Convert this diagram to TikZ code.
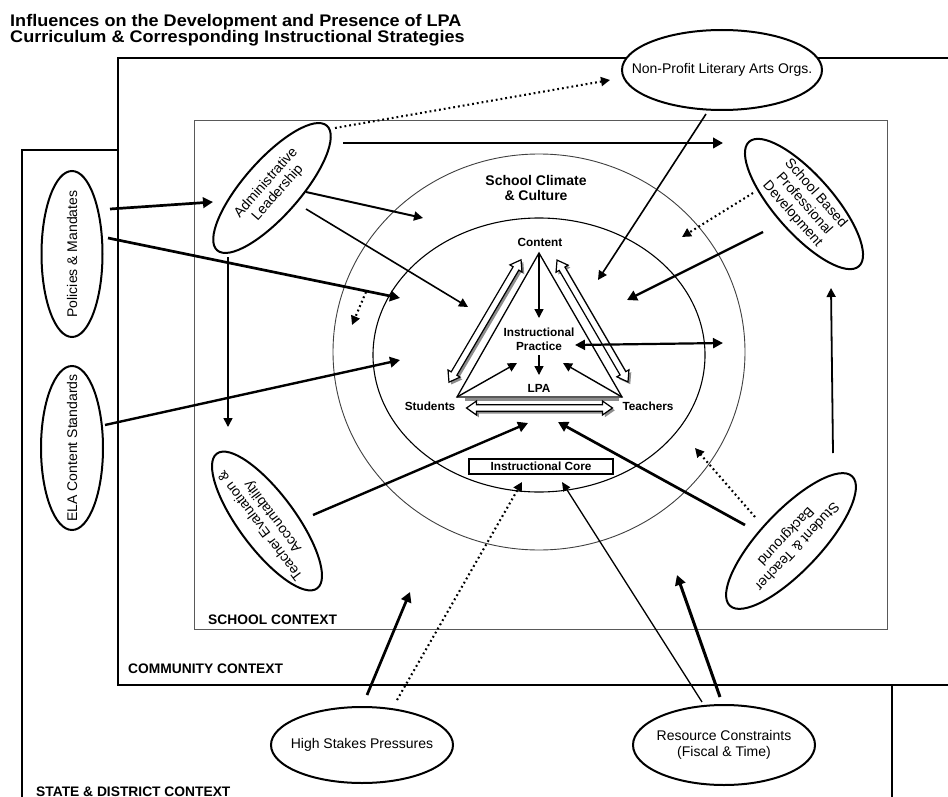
\documentclass[tikz,border=0pt]{standalone}
\usepackage{fontspec}
\setmainfont{Liberation Sans}
\usetikzlibrary{arrows.meta,shapes.geometric,calc}

\newcommand{\fs}[2]{\fontsize{#1}{#2}\selectfont}
% hollow double-headed arrow: #1 options, #2 length
\newcommand{\harrowpath}[2]{%
  \path[#1] ({-#2/2},0) -- ({-#2/2+10},7) -- ({-#2/2+10},3.3) -- ({#2/2-10},3.3)
   -- ({#2/2-10},7) -- ({#2/2},0) -- ({#2/2-10},-7) -- ({#2/2-10},-3.3)
   -- ({-#2/2+10},-3.3) -- ({-#2/2+10},-7) -- cycle;}
% #1 centre, #2 angle, #3 length
\newcommand{\hollowarrow}[3]{%
  \begin{scope}[shift={#1}]
    \begin{scope}[shift={(2.3,2.3)}, rotate=#2]
      \harrowpath{fill=black!45}{#3}
    \end{scope}
    \begin{scope}[rotate=#2]
      \harrowpath{draw, fill=white, line width=1.2pt, line join=miter}{#3}
    \end{scope}
  \end{scope}}

\tikzset{
  oval/.style={ellipse, draw, line width=2pt, fill=white, inner sep=0pt},
  ovaltext/.style={font=\fs{14}{15.5}, align=center, inner sep=0pt},
  ctrtxt/.style={font=\bfseries\fs{11.8}{14}, align=center, inner sep=0pt},
  ctxlabel/.style={font=\bfseries\fs{13.8}{15}, anchor=base west, inner sep=0pt},
  titletxt/.style={font=\bfseries\fs{16.8}{17}, anchor=base west, inner sep=0pt, xscale=1.075},
  connmid/.style={line width=1.6pt, -{Triangle[length=9pt,width=9pt]}},
  connlight/.style={line width=1.3pt, -{Triangle[length=9pt,width=8pt]}},
  connheavy/.style={line width=2.7pt, -{Triangle[length=10pt,width=10.5pt]}},
  conndot/.style={line width=2.1pt, dash pattern=on 1.8pt off 3pt, -{Triangle[length=9pt,width=9pt]}},
}

\begin{document}
\begin{tikzpicture}[x=1pt,y=-1pt]
\clip (0,0) rectangle (948,797);
\fill[white] (0,0) rectangle (948,797);

% title
\node[titletxt] (title1) at (10,27) {Influences on the Development and Presence of LPA};
\node[titletxt] (title2) at (10,43) {Curriculum \& Corresponding Instructional Strategies};

% context boxes
\draw[line width=1.8pt] (22,815) -- (22,150) -- (892,150) -- (892,815);
\draw[line width=2pt, fill=white] (118,58) rectangle (975,685);
\draw[line width=1pt, black!65] (194,121) rectangle (887,629);

% climate and core ellipses
\draw[line width=0.9pt, black!75] (539,352) ellipse [x radius=206pt, y radius=198pt];
\draw[line width=1.1pt] (539,355) ellipse [x radius=166pt, y radius=137pt];

% labels
\node[ctxlabel] (lschool) at (208,624) {SCHOOL CONTEXT};
\node[ctxlabel] (lcomm) at (128,673) {COMMUNITY CONTEXT};
\node[ctxlabel] (lstate) at (36,796) {STATE \& DISTRICT CONTEXT};

% outer influence ellipses
\node[oval, minimum width=200pt, minimum height=80pt] (np) at (722,70) {};
\node[ovaltext] at (np) {Non-Profit Literary Arts Orgs.};

\node[oval, minimum width=166pt, minimum height=56pt, rotate=48.6] (admin) at (272,188) {};
\node[ovaltext, rotate=48.6] at (admin) {Administrative\\Leadership};

\node[oval, minimum width=166pt, minimum height=58pt, rotate=-48.6] (sbpd) at (804,204) {};
\node[ovaltext, rotate=-48.6] at (sbpd) {School Based\\Professional\\Development};

\node[oval, minimum width=168pt, minimum height=56pt, rotate=126.7] (teval) at (267,521) {};
\node[ovaltext, rotate=126.7] at (teval) {Teacher Evaluation \&\\Accountability};

\node[oval, minimum width=178pt, minimum height=60pt, rotate=226.6] (stb) at (791,541) {};
\node[ovaltext, rotate=226.6] at (stb) {Student \& Teacher\\Background};

\node[oval, minimum width=61pt, minimum height=166pt] (pol) at (72,254) {};
\node[ovaltext, rotate=90] at (pol) {Policies \& Mandates};

\node[oval, minimum width=62pt, minimum height=164pt] (ela) at (72,448) {};
\node[ovaltext, rotate=90] at (ela) {ELA Content Standards};

\node[oval, minimum width=182pt, minimum height=76pt] (hsp) at (362,745) {};
\node[ovaltext] at (hsp) {High Stakes Pressures};

\node[oval, minimum width=182pt, minimum height=80pt] (rc) at (724,745) {};
\node[ovaltext, font=\fs{14}{16.5}] at (rc) {Resource Constraints\\(Fiscal \& Time)};

% instructional core triangle
\coordinate (tC) at (539,253);
\coordinate (tS) at (457,397);
\coordinate (tT) at (622,397);
\draw[line width=2.6pt, black!45] ($(tS)+(8,2.6)$) -- ($(tT)+(-3,2.6)$);
\draw[line width=1.3pt, line join=miter] (tS) -- (tC) -- (tT) -- cycle;

\hollowarrow{(485,321)}{59.5}{142}
\hollowarrow{(592.5,321)}{-59.8}{141}
\hollowarrow{(539.5,408)}{0}{146}

% centre texts
\node[font=\bfseries\fs{14}{15.5}, align=center, inner sep=0pt] (climate) at (536,188) {School Climate\\\& Culture};
\node[ctrtxt] (content) at (540,242) {Content};
\node[ctrtxt] (ip) at (539,339) {Instructional\\Practice};
\node[ctrtxt] (lpa) at (539,388) {LPA};
\node[ctrtxt] (students) at (430,406) {Students};
\node[ctrtxt] (teachers) at (648,406) {Teachers};
\node[ctrtxt, draw, line width=1.5pt, minimum width=144pt, minimum height=15pt] (core) at (541,466.5) {Instructional Core};

% connector end points
\coordinate (admin-np) at (335,128);   \coordinate (np-w) at (610,80);
\coordinate (admin-r) at (343,143);    \coordinate (admin-r-end) at (723,143);
\coordinate (np-s) at (706,114);       \coordinate (np-in) at (598,280);
\coordinate (pol-e1) at (110,209);     \coordinate (admin-w) at (213,202);
\coordinate (pol-e2) at (108,238);     \coordinate (pol-in) at (400,298);
\coordinate (admin-s) at (228,257);    \coordinate (teval-n) at (228,427);
\coordinate (admin-e1) at (306,192);   \coordinate (clim-in) at (423,218);
\coordinate (admin-e2) at (306,209);   \coordinate (tri-in) at (468,307);
\coordinate (ela-e) at (105,425);      \coordinate (ela-in) at (400,360);
\coordinate (dot-s) at (366,292);      \coordinate (dot-e) at (352,325);
\coordinate (sbpd-w1) at (753,193);    \coordinate (sbpd-dot-in) at (682,237);
\coordinate (sbpd-w2) at (763,232);    \coordinate (sbpd-in) at (627,300);
\coordinate (ip-e) at (575,345);       \coordinate (ip-r) at (723,343);
\coordinate (stb-n) at (833,453);      \coordinate (sbpd-s) at (831,288);
\coordinate (stb-w1) at (755,517);     \coordinate (stb-dot-in) at (695,448);
\coordinate (stb-w2) at (745,525);     \coordinate (stb-in) at (558,422);
\coordinate (teval-e) at (313,515);    \coordinate (teval-in) at (528,423);
\coordinate (hsp-n1) at (367,695);     \coordinate (hsp-in) at (410,592);
\coordinate (hsp-n2) at (397,700);     \coordinate (core-in1) at (522,482);
\coordinate (rc-n1) at (702,702);      \coordinate (core-in2) at (562,482);
\coordinate (rc-n2) at (720,697);      \coordinate (rc-in) at (677,575);
\coordinate (ip-n) at (539,318);       \coordinate (ip-s) at (539,355);
\coordinate (lpa-n) at (539,375);
\coordinate (ip-sw) at (517,363);      \coordinate (ip-se) at (563,363);

% connectors
\draw[conndot] (admin-np) -- (np-w);
\draw[connheavy] (admin-r) -- (admin-r-end);
\draw[connmid] (np-s) -- (np-in);
\draw[connheavy] (pol-e1) -- (admin-w);
\draw[connheavy] (pol-e2) -- (pol-in);
\draw[connmid] (admin-s) -- (teval-n);
\draw[connmid, line width=2pt] (admin-e1) -- (clim-in);
\draw[connmid] (admin-e2) -- (tri-in);
\draw[connheavy, line width=2.4pt] (ela-e) -- (ela-in);
\draw[conndot] (dot-s) -- (dot-e);
\draw[conndot] (sbpd-w1) -- (sbpd-dot-in);
\draw[connheavy, line width=2.3pt] (sbpd-w2) -- (sbpd-in);
\draw[connheavy, line width=2.2pt, {Triangle[length=10pt,width=10pt]}-{Triangle[length=10pt,width=10pt]}] (ip-e) -- (ip-r);
\draw[connmid, line width=1.8pt] (stb-n) -- (sbpd-s);
\draw[conndot] (stb-w1) -- (stb-dot-in);
\draw[connheavy] (stb-w2) -- (stb-in);
\draw[connheavy, line width=2.4pt] (teval-e) -- (teval-in);
\draw[connheavy] (hsp-n1) -- (hsp-in);
\draw[conndot] (hsp-n2) -- (core-in1);
\draw[connlight] (rc-n1) -- (core-in2);
\draw[connheavy, line width=3pt] (rc-n2) -- (rc-in);
\draw[connmid, line width=1.4pt] (tC) -- (ip-n);
\draw[connmid, line width=1.4pt] (ip-s) -- (lpa-n);
\draw[connmid, line width=1.4pt] (tS) -- (ip-sw);
\draw[connmid, line width=1.4pt] (tT) -- (ip-se);
\end{tikzpicture}
\end{document}
